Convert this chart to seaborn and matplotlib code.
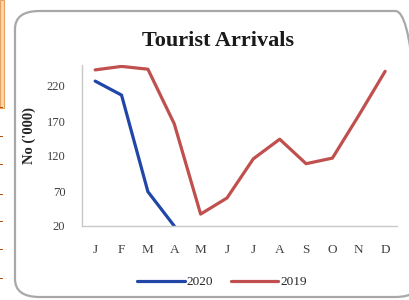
import matplotlib
matplotlib.use("Agg")
import matplotlib.pyplot as plt
import seaborn as sns
import pandas as pd
from matplotlib.patches import FancyBboxPatch, Rectangle
from matplotlib.lines import Line2D

months = ["J", "F", "M", "A", "M", "J", "J", "A", "S", "O", "N", "D"]
arrivals_2019 = [243, 248, 244, 166, 37, 60, 116, 144, 109, 117, 178, 241]
arrivals_2020 = [227, 207, 69, 20]
series_names = ["2020", "2019"]
y_ticks = [20, 70, 120, 170, 220]

rows = []
for i, v in enumerate(arrivals_2020):
    rows.append({"month": i, "value": v, "year": "2020"})
for i, v in enumerate(arrivals_2019):
    rows.append({"month": i, "value": v, "year": "2019"})
df = pd.DataFrame(rows)

sns.set_style("white")
plt.rcParams["font.family"] = ["Liberation Serif", "DejaVu Serif"]

fig = plt.figure(figsize=(4.1, 3.0), dpi=100)
ax = fig.add_axes([82/410, 74/300, (397-82)/410, (226-65)/300])

# decorative page elements
fig.patches.append(Rectangle((0, 192/300), 4/410, 108/300, transform=fig.transFigure,
                             facecolor="#fbd7b0", edgecolor="#e8a060", lw=0.8, zorder=0))
for yy in [108, 137, 165, 195, 222, 250, 279]:
    fig.patches.append(Rectangle((0, 1 - yy/300), 3/410, 1.5/300, transform=fig.transFigure,
                                 facecolor="#b05010", edgecolor="none", zorder=0))
fig.patches.append(FancyBboxPatch((15/410, 3/300), (420-15)/410, (289-3)/300,
                                  boxstyle="round,pad=0,rounding_size=0.06",
                                  transform=fig.transFigure, facecolor="none",
                                  edgecolor="#a8a8a8", lw=1.6, zorder=0))

palette = {"2020": "#2046a8", "2019": "#c0504d"}
sns.lineplot(data=df, x="month", y="value", hue="year", hue_order=series_names,
             palette=palette, linewidth=2.3, ax=ax, legend=False)

ax.set_xlim(-0.5, 11.45)
ax.set_ylim(20, 250)
ax.set_yticks(y_ticks)
ax.set_yticklabels([str(t) for t in y_ticks], fontsize=9, color="#404040")
ax.set_xticks(range(12))
ax.set_xticklabels(months, fontsize=9.5, color="#404040")
ax.tick_params(axis="y", length=0, pad=12)
ax.tick_params(axis="x", length=0, pad=13)
for s in ["top", "right"]:
    ax.spines[s].set_visible(False)
for s in ["left", "bottom"]:
    ax.spines[s].set_color("#c8c8c8")
    ax.spines[s].set_linewidth(1.0)
ax.set_xlabel("")
ax.set_ylabel("No ('000)", fontsize=10.5, fontweight="bold")
ax.yaxis.set_label_coords(-0.145, 0.565)

fig.text(218/410, 1 - 41/300, "Tourist Arrivals", ha="center", va="center",
         fontsize=16, fontweight="bold", color="#1a1a1a")

handles = [Line2D([0], [0], color=palette[n], lw=2.3) for n in series_names]
fig.legend(handles, series_names, loc="center", bbox_to_anchor=(222/410, 1 - 282/300),
           ncol=2, frameon=False, fontsize=9.5, handlelength=3.6, handletextpad=0.15,
           columnspacing=1.3)

fig.savefig("out.png", dpi=100)
